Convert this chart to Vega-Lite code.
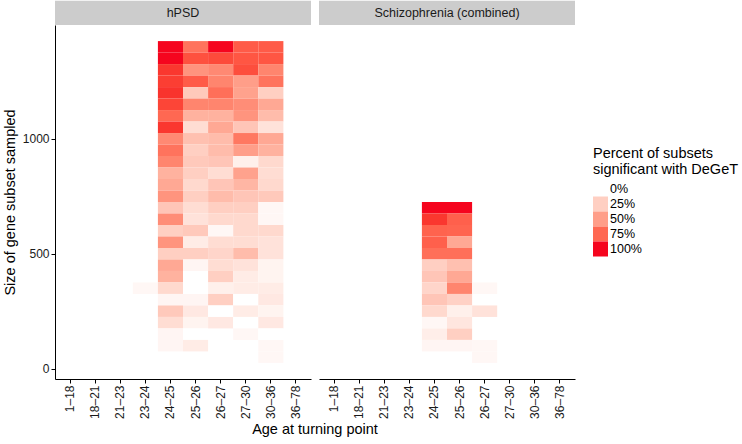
{
  "$schema": "https://vega.github.io/schema/vega-lite/v6.json",
  "background": "white",
  "padding": {"left": 2, "top": 0, "right": 5, "bottom": 0},
  "data": {"values": [
    {"panel":"hPSD","age":"24–25","size":1400,"pct":100},{"panel":"hPSD","age":"25–26","size":1400,"pct":70},{"panel":"hPSD","age":"26–27","size":1400,"pct":100},{"panel":"hPSD","age":"27–30","size":1400,"pct":80},{"panel":"hPSD","age":"30–36","size":1400,"pct":80},
    {"panel":"hPSD","age":"24–25","size":1350,"pct":100},{"panel":"hPSD","age":"25–26","size":1350,"pct":84},{"panel":"hPSD","age":"26–27","size":1350,"pct":86},{"panel":"hPSD","age":"27–30","size":1350,"pct":82},{"panel":"hPSD","age":"30–36","size":1350,"pct":82},
    {"panel":"hPSD","age":"24–25","size":1300,"pct":92},{"panel":"hPSD","age":"25–26","size":1300,"pct":55},{"panel":"hPSD","age":"26–27","size":1300,"pct":60},{"panel":"hPSD","age":"27–30","size":1300,"pct":85},{"panel":"hPSD","age":"30–36","size":1300,"pct":62},
    {"panel":"hPSD","age":"24–25","size":1250,"pct":90},{"panel":"hPSD","age":"25–26","size":1250,"pct":80},{"panel":"hPSD","age":"26–27","size":1250,"pct":62},{"panel":"hPSD","age":"27–30","size":1250,"pct":50},{"panel":"hPSD","age":"30–36","size":1250,"pct":70},
    {"panel":"hPSD","age":"24–25","size":1200,"pct":93},{"panel":"hPSD","age":"25–26","size":1200,"pct":28},{"panel":"hPSD","age":"26–27","size":1200,"pct":72},{"panel":"hPSD","age":"27–30","size":1200,"pct":48},{"panel":"hPSD","age":"30–36","size":1200,"pct":25},
    {"panel":"hPSD","age":"24–25","size":1150,"pct":88},{"panel":"hPSD","age":"25–26","size":1150,"pct":62},{"panel":"hPSD","age":"26–27","size":1150,"pct":62},{"panel":"hPSD","age":"27–30","size":1150,"pct":58},{"panel":"hPSD","age":"30–36","size":1150,"pct":45},
    {"panel":"hPSD","age":"24–25","size":1100,"pct":75},{"panel":"hPSD","age":"25–26","size":1100,"pct":40},{"panel":"hPSD","age":"26–27","size":1100,"pct":40},{"panel":"hPSD","age":"27–30","size":1100,"pct":55},{"panel":"hPSD","age":"30–36","size":1100,"pct":35},
    {"panel":"hPSD","age":"24–25","size":1050,"pct":92},{"panel":"hPSD","age":"25–26","size":1050,"pct":18},{"panel":"hPSD","age":"26–27","size":1050,"pct":45},{"panel":"hPSD","age":"27–30","size":1050,"pct":30},{"panel":"hPSD","age":"30–36","size":1050,"pct":15},
    {"panel":"hPSD","age":"24–25","size":1000,"pct":60},{"panel":"hPSD","age":"25–26","size":1000,"pct":33},{"panel":"hPSD","age":"26–27","size":1000,"pct":35},{"panel":"hPSD","age":"27–30","size":1000,"pct":68},{"panel":"hPSD","age":"30–36","size":1000,"pct":45},
    {"panel":"hPSD","age":"24–25","size":950,"pct":70},{"panel":"hPSD","age":"25–26","size":950,"pct":25},{"panel":"hPSD","age":"26–27","size":950,"pct":35},{"panel":"hPSD","age":"27–30","size":950,"pct":50},{"panel":"hPSD","age":"30–36","size":950,"pct":40},
    {"panel":"hPSD","age":"24–25","size":900,"pct":62},{"panel":"hPSD","age":"25–26","size":900,"pct":28},{"panel":"hPSD","age":"26–27","size":900,"pct":30},{"panel":"hPSD","age":"27–30","size":900,"pct":8},{"panel":"hPSD","age":"30–36","size":900,"pct":20},
    {"panel":"hPSD","age":"24–25","size":850,"pct":40},{"panel":"hPSD","age":"25–26","size":850,"pct":25},{"panel":"hPSD","age":"26–27","size":850,"pct":18},{"panel":"hPSD","age":"27–30","size":850,"pct":48},{"panel":"hPSD","age":"30–36","size":850,"pct":18},
    {"panel":"hPSD","age":"24–25","size":800,"pct":45},{"panel":"hPSD","age":"25–26","size":800,"pct":20},{"panel":"hPSD","age":"26–27","size":800,"pct":30},{"panel":"hPSD","age":"27–30","size":800,"pct":38},{"panel":"hPSD","age":"30–36","size":800,"pct":20},
    {"panel":"hPSD","age":"24–25","size":750,"pct":55},{"panel":"hPSD","age":"25–26","size":750,"pct":25},{"panel":"hPSD","age":"26–27","size":750,"pct":35},{"panel":"hPSD","age":"27–30","size":750,"pct":30},{"panel":"hPSD","age":"30–36","size":750,"pct":28},
    {"panel":"hPSD","age":"24–25","size":700,"pct":30},{"panel":"hPSD","age":"25–26","size":700,"pct":18},{"panel":"hPSD","age":"26–27","size":700,"pct":25},{"panel":"hPSD","age":"27–30","size":700,"pct":25},{"panel":"hPSD","age":"30–36","size":700,"pct":4},
    {"panel":"hPSD","age":"24–25","size":650,"pct":58},{"panel":"hPSD","age":"25–26","size":650,"pct":15},{"panel":"hPSD","age":"26–27","size":650,"pct":20},{"panel":"hPSD","age":"27–30","size":650,"pct":20},{"panel":"hPSD","age":"30–36","size":650,"pct":4},
    {"panel":"hPSD","age":"24–25","size":600,"pct":25},{"panel":"hPSD","age":"25–26","size":600,"pct":28},{"panel":"hPSD","age":"26–27","size":600,"pct":4},{"panel":"hPSD","age":"27–30","size":600,"pct":20},{"panel":"hPSD","age":"30–36","size":600,"pct":20},
    {"panel":"hPSD","age":"24–25","size":550,"pct":55},{"panel":"hPSD","age":"25–26","size":550,"pct":10},{"panel":"hPSD","age":"26–27","size":550,"pct":18},{"panel":"hPSD","age":"27–30","size":550,"pct":18},{"panel":"hPSD","age":"30–36","size":550,"pct":15},
    {"panel":"hPSD","age":"24–25","size":500,"pct":25},{"panel":"hPSD","age":"25–26","size":500,"pct":25},{"panel":"hPSD","age":"26–27","size":500,"pct":22},{"panel":"hPSD","age":"27–30","size":500,"pct":35},{"panel":"hPSD","age":"30–36","size":500,"pct":15},
    {"panel":"hPSD","age":"24–25","size":450,"pct":45},{"panel":"hPSD","age":"25–26","size":450,"pct":5},{"panel":"hPSD","age":"26–27","size":450,"pct":18},{"panel":"hPSD","age":"27–30","size":450,"pct":15},{"panel":"hPSD","age":"30–36","size":450,"pct":6},
    {"panel":"hPSD","age":"24–25","size":400,"pct":40},{"panel":"hPSD","age":"25–26","size":400,"pct":0},{"panel":"hPSD","age":"26–27","size":400,"pct":25},{"panel":"hPSD","age":"27–30","size":400,"pct":10},{"panel":"hPSD","age":"30–36","size":400,"pct":6},
    {"panel":"hPSD","age":"23–24","size":350,"pct":4},{"panel":"hPSD","age":"24–25","size":350,"pct":20},{"panel":"hPSD","age":"25–26","size":350,"pct":0},{"panel":"hPSD","age":"26–27","size":350,"pct":8},{"panel":"hPSD","age":"27–30","size":350,"pct":10},{"panel":"hPSD","age":"30–36","size":350,"pct":10},
    {"panel":"hPSD","age":"24–25","size":300,"pct":5},{"panel":"hPSD","age":"25–26","size":300,"pct":5},{"panel":"hPSD","age":"26–27","size":300,"pct":25},{"panel":"hPSD","age":"27–30","size":300,"pct":0},{"panel":"hPSD","age":"30–36","size":300,"pct":12},
    {"panel":"hPSD","age":"24–25","size":250,"pct":28},{"panel":"hPSD","age":"25–26","size":250,"pct":12},{"panel":"hPSD","age":"26–27","size":250,"pct":0},{"panel":"hPSD","age":"27–30","size":250,"pct":10},{"panel":"hPSD","age":"30–36","size":250,"pct":6},
    {"panel":"hPSD","age":"24–25","size":200,"pct":18},{"panel":"hPSD","age":"25–26","size":200,"pct":6},{"panel":"hPSD","age":"26–27","size":200,"pct":12},{"panel":"hPSD","age":"27–30","size":200,"pct":0},{"panel":"hPSD","age":"30–36","size":200,"pct":12},
    {"panel":"hPSD","age":"24–25","size":150,"pct":5},{"panel":"hPSD","age":"25–26","size":150,"pct":0},{"panel":"hPSD","age":"27–30","size":150,"pct":4},{"panel":"hPSD","age":"30–36","size":150,"pct":0},
    {"panel":"hPSD","age":"24–25","size":100,"pct":5},{"panel":"hPSD","age":"25–26","size":100,"pct":10},{"panel":"hPSD","age":"30–36","size":100,"pct":4},
    {"panel":"hPSD","age":"30–36","size":50,"pct":4},
    {"panel":"Schizophrenia (combined)","age":"24–25","size":700,"pct":100},{"panel":"Schizophrenia (combined)","age":"25–26","size":700,"pct":100},
    {"panel":"Schizophrenia (combined)","age":"24–25","size":650,"pct":92},{"panel":"Schizophrenia (combined)","age":"25–26","size":650,"pct":78},
    {"panel":"Schizophrenia (combined)","age":"24–25","size":600,"pct":77},{"panel":"Schizophrenia (combined)","age":"25–26","size":600,"pct":76},
    {"panel":"Schizophrenia (combined)","age":"24–25","size":550,"pct":78},{"panel":"Schizophrenia (combined)","age":"25–26","size":550,"pct":45},
    {"panel":"Schizophrenia (combined)","age":"24–25","size":500,"pct":72},{"panel":"Schizophrenia (combined)","age":"25–26","size":500,"pct":72},
    {"panel":"Schizophrenia (combined)","age":"24–25","size":450,"pct":25},{"panel":"Schizophrenia (combined)","age":"25–26","size":450,"pct":33},
    {"panel":"Schizophrenia (combined)","age":"24–25","size":400,"pct":30},{"panel":"Schizophrenia (combined)","age":"25–26","size":400,"pct":45},
    {"panel":"Schizophrenia (combined)","age":"24–25","size":350,"pct":22},{"panel":"Schizophrenia (combined)","age":"25–26","size":350,"pct":62},{"panel":"Schizophrenia (combined)","age":"26–27","size":350,"pct":4},
    {"panel":"Schizophrenia (combined)","age":"24–25","size":300,"pct":30},{"panel":"Schizophrenia (combined)","age":"25–26","size":300,"pct":24},
    {"panel":"Schizophrenia (combined)","age":"24–25","size":250,"pct":20},{"panel":"Schizophrenia (combined)","age":"25–26","size":250,"pct":8},{"panel":"Schizophrenia (combined)","age":"26–27","size":250,"pct":15},
    {"panel":"Schizophrenia (combined)","age":"24–25","size":200,"pct":4},{"panel":"Schizophrenia (combined)","age":"25–26","size":200,"pct":13},
    {"panel":"Schizophrenia (combined)","age":"24–25","size":150,"pct":9},{"panel":"Schizophrenia (combined)","age":"25–26","size":150,"pct":25},
    {"panel":"Schizophrenia (combined)","age":"24–25","size":100,"pct":5},{"panel":"Schizophrenia (combined)","age":"25–26","size":100,"pct":5},{"panel":"Schizophrenia (combined)","age":"26–27","size":100,"pct":4},
    {"panel":"Schizophrenia (combined)","age":"26–27","size":50,"pct":4}
  ]},
  "transform": [
    {"calculate": "datum.size - 25", "as": "lo"},
    {"calculate": "datum.size + 25", "as": "hi"}
  ],
  "facet": {
    "column": {
      "field": "panel", "type": "nominal",
      "sort": ["hPSD", "Schizophrenia (combined)"],
      "header": {"title": "Age at turning point", "titleOrient": "bottom", "labels": false,
                 "titleFontSize": 14.5, "titleFontWeight": "normal", "titleColor": "black", "titlePadding": -6}
    }
  },
  "spacing": 8,
  "spec": {
    "width": 256,
    "height": 354,
    "layer": [
      {
        "transform": [{"aggregate": [{"op": "count", "as": "n"}], "groupby": ["panel"]}],
        "mark": {"type": "rect", "color": "#cccccc"},
        "encoding": {
          "y": {"datum": 1495, "type": "quantitative"},
          "y2": {"datum": 1600}
        }
      },
      {
        "transform": [{"aggregate": [{"op": "count", "as": "n"}], "groupby": ["panel"]}],
        "mark": {"type": "text", "fontSize": 12.5, "color": "#1a1a1a", "baseline": "middle"},
        "encoding": {
          "y": {"datum": 1547, "type": "quantitative"},
          "text": {"field": "panel", "type": "nominal"}
        }
      },
      {
        "mark": {"type": "rect"},
        "encoding": {
          "x": {
            "field": "age", "type": "ordinal",
            "scale": {"domain": ["1–18","18–21","21–23","23–24","24–25","25–26","26–27","27–30","30–36","36–78"], "paddingInner": 0, "paddingOuter": 0.1},
            "axis": {"title": null, "labelAngle": 270, "labelFontSize": 12, "labelColor": "#1a1a1a", "tickSize": 4, "labelPadding": 2, "domainColor": "black", "tickColor": "black"}
          },
          "y": {
            "field": "lo", "type": "quantitative",
            "scale": {"domain": [-45, 1495], "nice": false, "zero": false},
            "axis": {"title": "Size of gene subset sampled", "values": [0, 500, 1000], "format": "d", "grid": false, "labelFontSize": 12, "labelColor": "#1a1a1a", "tickSize": 4, "labelPadding": 2, "titleFontSize": 14.5, "titleFontWeight": "normal", "titleColor": "black", "titlePadding": 5, "domainColor": "black", "tickColor": "black"}
          },
          "y2": {"field": "hi"},
          "color": {
            "field": "pct", "type": "quantitative",
            "scale": {"domain": [0, 100], "range": ["#ffffff", "#f5051e"], "interpolate": "lab"},
            "legend": {
              "type": "symbol", "values": [0, 25, 50, 75, 100],
              "title": ["Percent of subsets", "significant with DeGeT"],
              "labelExpr": "datum.value + '%'",
              "symbolType": "square", "symbolSize": 225, "symbolStrokeWidth": 0, "symbolOpacity": 1,
              "rowPadding": 0, "labelFontSize": 12.5, "labelColor": "black", "labelOffset": 2, "labelAlign": "left",
              "padding": 0, "symbolOffset": 0,
              "titleFontSize": 14.5, "titleFontWeight": "normal", "titleColor": "black", "titleLineHeight": 16, "titlePadding": 4,
              "orient": "none", "legendX": 538, "legendY": 122
            }
          }
        }
      }
    ]
  },
  "config": {
    "font": "Liberation Sans",
    "view": {"stroke": null}
  }
}
